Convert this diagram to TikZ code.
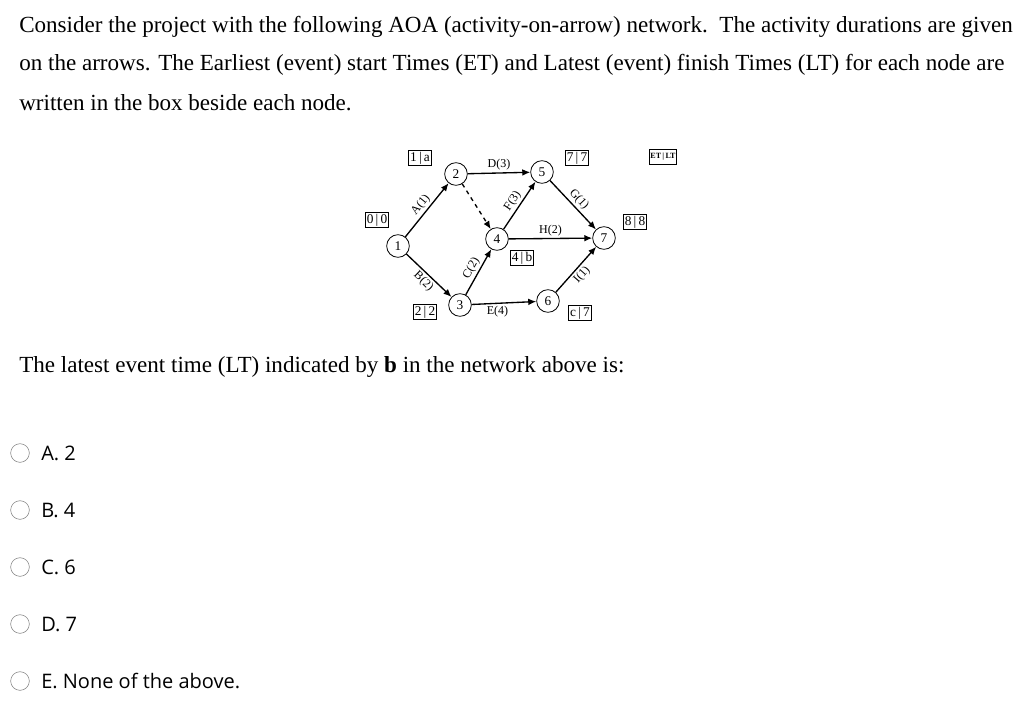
\documentclass[tikz,border=0pt]{standalone}
\usepackage{fontspec}
\setmainfont{Liberation Serif}
\newfontfamily\optfont{Open Sans}
\usetikzlibrary{arrows.meta}
\begin{document}
\begin{tikzpicture}[x=0.75pt,y=-0.75pt,
  ev/.style={circle,draw,semithick,minimum size=17pt,inner sep=0pt,font=\fontsize{10}{10}\selectfont},
  bx/.style={draw,thick,inner sep=1pt,minimum height=11pt,font=\fontsize{10}{10}\selectfont},
  act/.style={line width=1pt,-{Latex[length=6pt,width=5pt]}},
  lb/.style={font=\fontsize{9}{9}\selectfont,inner sep=1.5pt},
  q/.style={anchor=west,font=\fontsize{17.3}{20}\selectfont,inner sep=0pt},
  opt/.style={anchor=west,font=\optfont\fontsize{15}{18}\selectfont,inner sep=0pt},
  rb/.style={circle,draw=gray,minimum size=14pt,inner sep=0pt}]
\useasboundingbox (0,0) rectangle (1024,704);
\fill[white] (0,0) rectangle (1024,704);
\node[q] (l1) at (19,27) {Consider the project with the following AOA (activity-on-arrow) network.\ \ The activity durations are given};
\node[q] (l2) at (19,65) {on the arrows. The Earliest (event) start Times (ET) and Latest (event) finish Times (LT) for each node are};
\node[q] (l3) at (19,103) {written in the box beside each node.};
\node[q] (l4) at (19,367) {The latest event time (LT) indicated by \textbf{b} in the network above is:};
% network
\node[ev] (n1) at (398,246) {1};
\node[ev] (n2) at (456,174) {2};
\node[ev] (n5) at (542,172) {5};
\node[ev] (n4) at (497,239) {4};
\node[ev] (n3) at (460,305) {3};
\node[ev] (n6) at (548,301) {6};
\node[ev] (n7) at (604,238) {7};
\draw[act] (n1) -- node[lb,sloped,above] {A(1)} (n2);
\draw[act] (n1) -- node[lb,sloped,below] {B(2)} (n3);
\draw[act] (n2) -- node[lb,above] {D(3)} (n5);
\draw[act,dashed] (n2) -- (n4);
\draw[act] (n3) -- node[lb,sloped,above] {C(2)} (n4);
\draw[act] (n3) -- node[lb,below,pos=0.4] {E(4)} (n6);
\draw[act] (n4) -- node[lb,sloped,above] {F(3)} (n5);
\draw[act] (n4) -- node[lb,above] {H(2)} (n7);
\draw[act] (n5) -- node[lb,sloped,above] {G(1)} (n7);
\draw[act] (n6) -- node[lb,sloped,below] {I(1)} (n7);
\node[bx] (b2) at (420,158) {1\,|\,a};
\node[bx] (b1) at (377,220) {0\,|\,0};
\node[bx] (b5) at (577,158) {7\,|\,7};
\node[bx,font=\bfseries\fontsize{6}{6}\selectfont] (bl) at (663,157) {ET\,|\,LT};
\node[bx] (b7) at (635,222) {8\,|\,8};
\node[bx] (b4) at (522,258) {4\,|\,b};
\node[bx] (b3) at (425,312) {2\,|\,2};
\node[bx] (b6) at (580,313) {c\,|\,7};
% options
\foreach \y/\t [count=\i] in {453/A. 2,510/B. 4,567/C. 6,624/D. 7,681/E. None of the above.}{
  \node[rb] (r\i) at (20,\y) {};
  \node[opt] (o\i) at (41,\y) {\t};
}
\end{tikzpicture}
\end{document}
